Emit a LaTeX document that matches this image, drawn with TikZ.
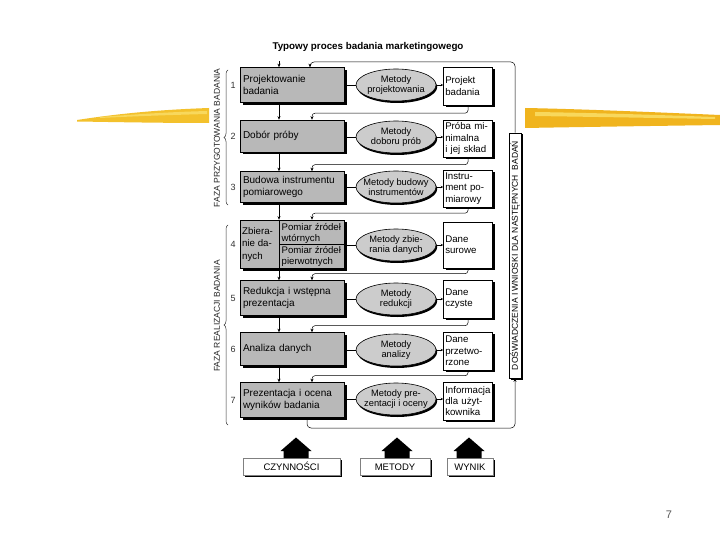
\documentclass[tikz,border=0pt]{standalone}
\usepackage{fontspec}
\setmainfont{Liberation Sans}
\usetikzlibrary{shapes.geometric,shadows,decorations.pathreplacing,arrows.meta,calc}
\definecolor{goldA}{HTML}{F3C12C}
\definecolor{goldB}{HTML}{F8D85C}
\definecolor{goldC}{HTML}{F0B41E}
\begin{document}
\begin{tikzpicture}[x=1pt,y=-1pt,
  font=\fontsize{10}{11.5}\selectfont,
  arr/.style={-{Stealth[length=3.5pt,width=3pt]}, line width=0.5pt},
  tinyarr/.style={-{Stealth[length=2.5pt,width=2.5pt]}, line width=0.5pt},
  act/.style={draw, line width=0.6pt, fill=black!28, minimum width=104pt, text width=98pt, align=left, inner sep=3pt,
    drop shadow={shadow xshift=2.5pt, shadow yshift=-2.5pt, fill=black, opacity=1}},
  ell/.style={ellipse, draw, line width=0.6pt, fill=black!20, minimum width=80pt, minimum height=32pt, inner sep=0pt,
    drop shadow={shadow xshift=1.2pt, shadow yshift=-2pt, fill=black, opacity=1}},
  elltext/.style={align=center, font=\fontsize{9.3}{10.5}\selectfont, inner sep=0pt},
  res/.style={draw, line width=0.6pt, fill=white, minimum width=49pt, text width=45.5pt, align=left, inner sep=1.75pt,
    font=\fontsize{9.7}{11.3}\selectfont,
    drop shadow={shadow xshift=2pt, shadow yshift=-2pt, fill=black, opacity=1}},
  num/.style={font=\fontsize{9}{10}\selectfont, text=black!80, inner sep=0pt},
  phase/.style={rotate=90, font=\fontsize{8.5}{10}\selectfont, text=black!85, inner sep=0pt},
  lab/.style={draw=black!50, line width=0.4pt, fill=white, inner sep=0pt, text height=7pt, text depth=0pt,
    font=\fontsize{9.5}{11}\selectfont,
    drop shadow={shadow xshift=1.8pt, shadow yshift=-1.8pt, fill=black, opacity=1}},
  brc/.style={decorate, decoration={brace, amplitude=4pt}, line width=0.5pt, black!80},
]
\useasboundingbox[fill=white] (0,0) rectangle (720,540);
\coordinate (xa) at (279,0);
\coordinate (xb) at (312,0);
\coordinate (xc) at (310,0);
\coordinate (xd) at (307,0);

% yellow strokes
\fill[goldA] (77,120) .. controls (110,115) and (150,110) .. (209,108) -- (209,123) .. controls (160,123) and (110,122) .. (77,121.5) -- cycle;
\fill[goldB] (100,117) .. controls (140,114) and (170,112) .. (207,111) -- (207,114) .. controls (170,115) and (140,116) .. (100,118) -- cycle;
\fill[goldC] (525,108) .. controls (580,109) and (650,112) .. (720,115) -- (720,125) .. controls (650,126) and (580,127) .. (525,128) -- cycle;
\fill[goldB] (535,112) .. controls (600,113) and (660,115) .. (715,117) -- (715,119) .. controls (660,118) and (600,117) .. (535,116) -- cycle;

% title
\node[font=\bfseries\fontsize{9.8}{11}\selectfont] (title) at (368,47) {Typowy proces badania marketingowego};

% phase labels and braces
\node[phase] (ph1) at (217,138) {FAZA PRZYGOTOWANIA BADANIA};
\node[phase] (ph2) at (217,316) {FAZA REALIZACJI BADANIA};
\draw[brc] (228,205) -- (228,70);
\draw[brc] (228,425) -- (228,225);

% numbers
\node[num] (n1) at (233,85) {1};
\node[num] (n2) at (233,136) {2};
\node[num] (n3) at (233,187) {3};
\node[num] (n4) at (233,244) {4};
\node[num] (n5) at (233,298) {5};
\node[num] (n6) at (233,349) {6};
\node[num] (n7) at (233,400) {7};

% activities
\node[act, minimum height=35pt] (act1) at (292,85) {Projektowanie\\badania};
\node[act, minimum height=32pt] (act2) at (292,136) {Dobór próby};
\node[act, minimum height=31pt] (act3) at (292,187) {Budowa instrumentu\\pomiarowego};
\node[act, minimum height=48pt] (act4) at (292,244) {};
\node[act, minimum height=35pt] (act5) at (292,298) {Redukcja i wstępna\\prezentacja};
\node[act, minimum height=33pt] (act6) at (292,349) {Analiza danych};
\node[act, minimum height=35pt] (act7) at (292,400) {Prezentacja i ocena\\wyników badania};
\draw[line width=0.5pt] (act4.north -| xa) -- (act4.south -| xa);
\draw[line width=0.5pt] (act4.east -| xa) -- (act4.east);
\node[anchor=west, align=left, inner sep=0pt, font=\fontsize{9.7}{12.5}\selectfont] (act4a) at (242,244) {Zbiera-\\nie da-\\nych};
\node[anchor=west, align=left, inner sep=0pt, font=\fontsize{9.6}{11}\selectfont] (act4b) at (281.5,233.5) {Pomiar źródeł\\wtórnych};
\node[anchor=west, align=left, inner sep=0pt, font=\fontsize{9.6}{11}\selectfont] (act4c) at (281.5,256.5) {Pomiar źródeł\\pierwotnych};

% methods
\foreach \i/\y in {1/85,2/137,3/187,4/245,5/299,6/350,7/399}{
  \node[ell] (ell\i) at (396,\y) {};
}
\node[elltext] (et1) at (ell1) {Metody\\projektowania};
\node[elltext] (et2) at (ell2) {Metody\\doboru prób};
\node[elltext] (et3) at (ell3) {Metody budowy\\instrumentów};
\node[elltext] (et4) at (ell4) {Metody zbie-\\rania danych};
\node[elltext] (et5) at (ell5) {Metody\\redukcji};
\node[elltext] (et6) at (ell6) {Metody\\analizy};
\node[elltext] (et7) at (ell7) {Metody pre-\\zentacji i oceny};

% results
\node[res, minimum height=38pt] (res1) at (468,86) {Projekt\\badania};
\node[res, minimum height=37pt] (res2) at (468,138.5) {Próba mi-\\nimalna\\i jej skład};
\node[res, minimum height=37pt] (res3) at (468,188.5) {Instru-\\ment po-\\miarowy};
\node[res, minimum height=46pt] (res4) at (468,245) {Dane\\surowe};
\node[res, minimum height=38pt] (res5) at (468,299) {Dane\\czyste};
\node[res, minimum height=38pt] (res6) at (468,351) {Dane\\przetwo-\\rzone};
\node[res, minimum height=38pt] (res7) at (468,401) {Informacja\\dla użyt-\\kownika};

% right box
\node[draw, line width=0.6pt, fill=white, minimum width=12pt, minimum height=245pt, inner sep=0pt,
  drop shadow={shadow xshift=1.5pt, shadow yshift=-1.5pt, fill=black, opacity=1}] (dr) at (515,255.5) {};
\node[rotate=90, inner sep=0pt, font=\fontsize{8.5}{10}\selectfont] (drt) at (dr.center) {DOŚWIADCZENIA I WNIOSKI DLA NASTĘPNYCH\ \ BADAŃ};

% method arrows
\foreach \i in {1,...,7}{
  \draw[tinyarr] (ell\i.west) -- (act\i.east |- ell\i.west);
  \draw[tinyarr] (ell\i.east) -- (res\i.west |- ell\i.east);
}

% flow connectors
\coordinate (start) at (279,61);
\draw[arr] (start) -- (act1.north -| start);
\foreach \i/\j in {1/2,2/3,3/4,4/5,5/6,6/7}{
  \draw[arr] (act\i.south -| xa) -- (act\j.north -| xa);
  \draw[arr, rounded corners=3pt] (res\i.south) |- ($(act\j.north -| xb)+(0,-6.5)$) -- (act\j.north -| xb);
}
\coordinate (topc) at (310,62);
\coordinate (botc) at (307,428);
\draw[arr, rounded corners=4pt] (dr.north) |- (topc) -- (act1.north -| xc);
\draw[arr, rounded corners=4pt] (act7.south -| xd) -- (botc) -| (dr.south);

% bottom legend
\node[lab, minimum width=97pt, minimum height=17pt] (l1) at (291.5,466.5) {CZYNNOŚCI};
\node[lab, minimum width=70pt, minimum height=17pt] (l2) at (395,466.5) {METODY};
\node[lab, minimum width=46pt, minimum height=17pt] (l3) at (470,466.5) {WYNIK};
\foreach \n/\cx in {l1/296,l2/397,l3/469}{
  \fill (\cx,437.5) -- (\cx+15.5,451) -- (\cx+12.5,451) -- (\cx+12.5,458) -- (\cx-12.5,458) -- (\cx-12.5,451) -- (\cx-15.5,451) -- cycle;
}

% page number
\node[font=\fontsize{11}{12}\selectfont, text=black!65] (pg) at (669,515) {7};
\end{tikzpicture}
\end{document}
